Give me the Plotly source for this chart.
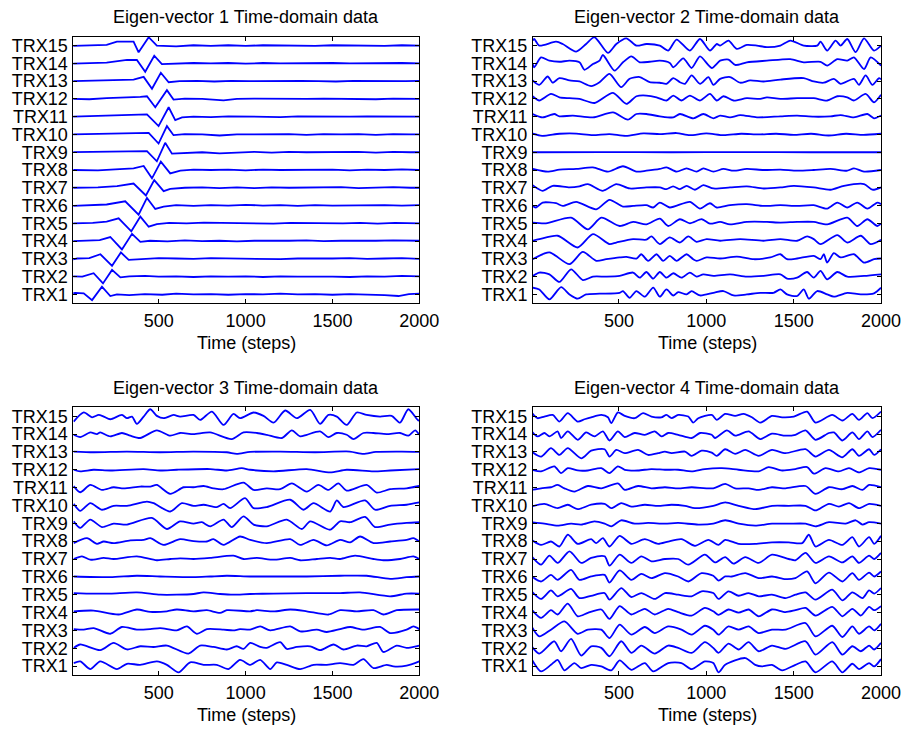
import plotly.graph_objects as go

# ---------------- data (time in steps, amplitude in hundredths of channel spacing) -------------
CHANNELS = ["TRX1", "TRX2", "TRX3", "TRX4", "TRX5", "TRX6", "TRX7", "TRX8",
            "TRX9", "TRX10", "TRX11", "TRX12", "TRX13", "TRX14", "TRX15"]
X_TICKS = [500, 1000, 1500, 2000]
TITLES = ["Eigen-vector 1 Time-domain data", "Eigen-vector 2 Time-domain data",
          "Eigen-vector 3 Time-domain data", "Eigen-vector 4 Time-domain data"]
X_LABEL = "Time (steps)"

EV1 = [
    [(0,6),(20,9),(68,6),(116,-32),(173,43),(221,-9),(259,0),(330,-4),(420,2),(520,-2),(600,4),(700,0),(800,2),(900,-2),(1000,2),(1100,0),(1200,4),(1300,0),(1400,2),(1500,-2),(1600,2),(1700,0),(1800,-4),(1880,-9),(1940,2),(2000,4)],
    [(0,2),(60,0),(125,19),(179,-38),(231,38),(279,-4),(330,2),(420,4),(500,0),(600,2),(700,-2),(800,2),(900,0),(1000,2),(1100,-2),(1200,2),(1300,0),(1400,2),(1500,0),(1600,-2),(1700,2),(1800,0),(1900,4),(2000,2)],
    [(0,-4),(30,2),(100,4),(164,26),(231,-39),(282,36),(327,-6),(400,0),(500,4),(600,2),(700,0),(800,4),(900,2),(1000,0),(1100,2),(1200,-2),(1300,2),(1400,0),(1500,2),(1600,4),(1700,0),(1800,2),(1900,4),(2000,0)],
    [(0,0),(100,2),(160,6),(221,23),(288,-47),(346,41),(394,-4),(450,2),(550,-2),(650,4),(750,0),(850,2),(950,-2),(1050,2),(1150,0),(1250,2),(1350,4),(1450,0),(1550,2),(1650,0),(1750,2),(1850,4),(1950,2),(2000,2)],
    [(0,0),(120,2),(200,9),(269,28),(342,-45),(394,38),(442,-19),(489,-4),(560,2),(660,0),(760,4),(860,2),(960,0),(1060,2),(1160,-2),(1260,2),(1360,0),(1460,2),(1560,0),(1660,2),(1760,-2),(1860,2),(1960,0),(2000,0)],
    [(0,-2),(100,0),(200,6),(307,24),(384,-51),(432,43),(480,-19),(528,-6),(600,2),(700,-2),(800,2),(900,0),(1000,4),(1100,0),(1200,2),(1300,-2),(1400,2),(1500,0),(1600,2),(1700,0),(1800,2),(1900,0),(2000,2)],
    [(0,0),(150,2),(260,9),(355,24),(426,-43),(474,43),(528,-19),(566,-6),(650,0),(750,2),(850,-2),(950,2),(1050,-2),(1150,2),(1250,0),(1350,2),(1450,0),(1550,4),(1650,-2),(1750,2),(1850,4),(1950,0),(2000,0)],
    [(0,0),(150,-2),(250,4),(355,9),(413,23),(461,-47),(512,47),(566,-19),(624,-4),(700,2),(800,0),(900,2),(1000,-2),(1100,2),(1200,0),(1300,2),(1400,0),(1500,2),(1600,-2),(1700,2),(1800,0),(1900,4),(2000,0)],
    [(0,0),(150,2),(300,4),(432,6),(489,-51),(537,53),(576,-8),(650,-4),(750,0),(850,-6),(950,0),(1050,2),(1150,-2),(1250,2),(1350,0),(1450,2),(1550,0),(1650,2),(1750,-2),(1850,2),(1950,0),(2000,0)],
    [(0,0),(150,2),(300,4),(442,9),(499,-51),(547,47),(585,-4),(650,2),(750,0),(850,-6),(950,0),(1050,2),(1150,0),(1250,2),(1350,-2),(1450,2),(1550,0),(1650,2),(1750,-2),(1850,2),(1950,0),(2000,0)],
    [(0,0),(150,4),(300,6),(432,13),(499,-53),(557,53),(595,-19),(634,-4),(700,0),(800,-2),(900,2),(1000,0),(1100,2),(1200,-2),(1300,2),(1400,0),(1500,2),(1600,0),(1700,2),(1800,0),(1900,2),(2000,0)],
    [(0,0),(100,-2),(200,4),(300,6),(394,11),(432,15),(480,-47),(547,49),(585,-4),(650,2),(750,0),(873,-8),(950,0),(1050,2),(1150,0),(1250,2),(1350,0),(1450,2),(1550,0),(1650,2),(1750,-2),(1850,2),(1950,0),(2000,0)],
    [(0,0),(100,2),(200,4),(300,4),(355,9),(413,24),(461,-43),(512,47),(557,-6),(620,0),(720,2),(820,-2),(920,2),(1020,0),(1120,2),(1220,0),(1320,2),(1420,0),(1520,-2),(1620,2),(1720,0),(1820,2),(1920,0),(2000,2)],
    [(0,-2),(100,0),(200,4),(317,19),(374,19),(422,-47),(474,43),(518,-4),(600,0),(700,2),(800,0),(900,2),(1000,-2),(1100,2),(1200,0),(1300,2),(1400,0),(1500,2),(1600,0),(1700,2),(1800,0),(1900,2),(2000,0)],
    [(0,-2),(100,0),(200,4),(259,22),(355,22),(384,-38),(442,47),(489,0),(600,-4),(700,2),(800,-2),(900,2),(1000,-2),(1100,2),(1200,0),(1300,2),(1400,-2),(1500,2),(1600,0),(1700,2),(1800,-2),(1900,2),(2000,0)],
]

EV2 = [
    [(6,38),(44,28),(102,-28),(169,41),(217,0),(264,-24),(312,0),(389,4),(504,9),(523,19),(561,-19),(600,19),(648,-13),(696,38),(734,-13),(772,28),(811,-6),(839,13),(887,0),(916,19),(964,-6),(1041,9),(1098,19),(1156,-6),(1232,0),(1309,9),(1385,9),(1424,28),(1462,0),(1520,-9),(1558,28),(1587,-24),(1635,19),(1692,0),(1730,-13),(1807,9),(1884,0),(1960,6),(2000,38)],
    [(6,4),(44,23),(102,13),(159,-30),(226,41),(293,-19),(351,0),(427,0),(504,4),(581,23),(619,-6),(657,26),(696,-11),(734,26),(772,-6),(811,19),(858,-6),(906,23),(944,0),(983,13),(1041,4),(1136,13),(1232,0),(1328,4),(1424,13),(1462,-11),(1520,-6),(1577,26),(1615,-6),(1654,32),(1692,-15),(1750,26),(1807,0),(1903,4),(2000,13)],
    [(6,-2),(102,36),(217,-30),(293,39),(370,-11),(427,-2),(504,8),(542,11),(600,2),(628,26),(667,-11),(715,26),(753,-11),(791,17),(830,-11),(887,26),(925,-2),(945,-11),(1002,8),(1079,2),(1175,13),(1271,-2),(1366,8),(1424,26),(1462,-2),(1520,2),(1615,17),(1654,-2),(1673,26),(1692,-21),(1730,32),(1769,8),(1845,26),(1903,-21),(1960,-2),(2000,2)],
    [(6,2),(44,11),(150,30),(264,-36),(351,39),(446,-17),(485,-8),(581,11),(657,8),(686,26),(734,-17),(791,21),(849,-8),(897,26),(944,-4),(1002,11),(1079,2),(1194,11),(1328,2),(1424,11),(1520,2),(1577,26),(1615,11),(1654,-17),(1750,34),(1807,-8),(1884,30),(1941,-17),(2000,8)],
    [(6,4),(82,0),(226,32),(322,-34),(399,32),(504,-15),(581,8),(657,-6),(734,26),(782,-15),(849,23),(906,0),(974,23),(1021,-2),(1079,8),(1136,-6),(1232,8),(1347,8),(1424,4),(1520,8),(1615,8),(1692,-6),(1807,32),(1864,-15),(1922,23),(1979,-15),(2000,-2)],
    [(6,-2),(25,-11),(63,17),(140,13),(178,-2),(255,21),(370,-21),(446,32),(523,-6),(581,-2),(657,2),(696,-11),(734,17),(791,-11),(906,21),(964,-17),(1021,13),(1060,-11),(1136,2),(1232,8),(1328,-2),(1424,2),(1520,-2),(1615,2),(1692,-17),(1750,17),(1807,-11),(1864,17),(1922,-17),(1979,17),(2000,8)],
    [(6,15),(63,-17),(121,11),(217,2),(274,8),(322,21),(408,-17),(485,21),(561,-4),(657,2),(734,2),(772,-8),(810,8),(849,-8),(887,11),(935,-11),(983,15),(1041,-4),(1136,2),(1232,8),(1328,-4),(1424,2),(1500,11),(1615,2),(1711,-11),(1788,11),(1903,21),(1951,-11),(2000,2)],
    [(6,6),(92,-9),(159,2),(255,6),(351,15),(437,-9),(523,21),(600,-9),(657,-4),(734,6),(772,15),(830,-9),(887,9),(945,-9),(983,9),(1041,-9),(1098,6),(1156,-4),(1232,6),(1328,0),(1424,2),(1520,-4),(1615,0),(1711,6),(1807,-4),(1845,9),(1903,-9),(2000,0)],
    [(0,0),(400,1),(800,0),(1200,1),(1600,0),(2000,0)],
    [(0,6),(60,-8),(160,4),(255,5),(350,-4),(445,2),(540,-8),(640,6),(735,2),(830,8),(905,-4),(1000,6),(1100,-4),(1200,4),(1300,0),(1400,4),(1500,-2),(1600,4),(1700,-6),(1800,4),(1900,-2),(2000,4)],
    [(6,15),(63,-4),(130,15),(159,2),(236,6),(351,-4),(466,24),(551,-17),(600,15),(657,15),(734,2),(811,-4),(849,15),(926,-9),(983,15),(1041,-9),(1079,6),(1136,-4),(1194,9),(1290,-4),(1424,2),(1520,6),(1615,0),(1711,2),(1769,9),(1845,-4),(1922,15),(1960,-9),(2000,6)],
    [(6,15),(44,-9),(111,28),(159,9),(217,4),(274,0),(360,-23),(466,34),(542,-28),(600,15),(657,19),(715,9),(772,-9),(811,19),(858,-9),(906,19),(964,-9),(1021,28),(1060,-9),(1098,15),(1156,-9),(1232,4),(1309,0),(1347,9),(1424,0),(1520,4),(1615,4),(1692,-9),(1750,15),(1807,9),(1845,-9),(1912,28),(1960,-19),(2000,23)],
    [(6,4),(44,-21),(92,26),(121,-9),(159,17),(217,4),(274,-2),(341,-28),(389,-6),(446,41),(513,-34),(561,13),(619,23),(676,-6),(734,-9),(772,-15),(811,17),(849,-6),(878,-15),(916,32),(964,-15),(1012,23),(1041,-21),(1079,13),(1136,23),(1194,-9),(1251,4),(1328,-2),(1424,9),(1558,17),(1615,-2),(1673,-9),(1730,13),(1769,-15),(1845,13),(1874,-21),(1912,32),(1951,-21),(1989,17),(2000,10)],
    [(6,-4),(15,-22),(54,34),(102,15),(159,9),(217,15),(274,6),(303,-36),(351,-4),(389,15),(408,47),(475,-41),(523,6),(571,39),(619,6),(676,9),(734,15),(791,2),(811,-22),(868,28),(916,-26),(964,39),(1031,-26),(1079,15),(1127,21),(1165,-9),(1232,6),(1347,15),(1481,24),(1558,6),(1654,9),(1692,-13),(1750,24),(1807,15),(1845,34),(1903,-32),(1941,34),(2000,-13)],
    [(6,28),(15,37),(44,0),(140,22),(178,9),(255,-34),(312,9),(360,47),(437,-41),(485,9),(542,41),(600,0),(657,9),(734,0),(782,-28),(830,34),(906,-28),(964,37),(1021,-28),(1060,9),(1079,0),(1127,28),(1175,-19),(1232,4),(1290,0),(1347,-9),(1424,0),(1481,28),(1558,0),(1635,0),(1654,22),(1692,-28),(1740,28),(1769,0),(1807,37),(1855,-37),(1903,41),(1960,-28),(2000,0)],
]

EV3 = [
    [(10,17),(48,26),(106,-17),(163,26),(259,-17),(317,13),(393,7),(489,26),(547,7),(614,-35),(681,21),(758,7),(834,7),(901,-17),(968,35),(1027,7),(1084,35),(1142,-17),(1180,21),(1237,7),(1314,-17),(1391,7),(1467,7),(1544,17),(1621,7),(1678,39),(1736,-11),(1812,7),(1851,-2),(1927,2),(2000,26)],
    [(10,2),(48,21),(163,-11),(240,30),(317,-7),(393,11),(470,7),(547,15),(671,-30),(738,15),(815,7),(892,-7),(949,11),(988,-4),(1027,30),(1084,7),(1122,2),(1199,34),(1237,-4),(1295,7),(1372,11),(1429,-11),(1506,21),(1563,-7),(1640,15),(1697,11),(1755,30),(1793,-21),(1870,15),(1927,2),(2000,15)],
    [(10,7),(68,4),(125,13),(221,-19),(288,19),(374,4),(451,7),(508,13),(604,0),(662,22),(719,-19),(777,7),(873,4),(930,0),(968,7),(1026,4),(1084,22),(1142,0),(1257,22),(1314,-6),(1410,4),(1467,-9),(1544,7),(1602,19),(1678,4),(1774,19),(1832,-15),(1927,4),(1966,22),(2000,7)],
    [(10,7),(125,11),(269,-11),(374,17),(451,4),(547,7),(604,17),(700,7),(777,13),(853,-2),(892,13),(1026,7),(1065,13),(1161,6),(1257,17),(1352,7),(1477,-11),(1544,13),(1640,7),(1736,13),(1793,-11),(1870,13),(2000,17)],
    [(10,9),(125,6),(221,6),(374,13),(508,0),(604,0),(700,4),(758,13),(853,4),(930,0),(1026,4),(1161,6),(1352,9),(1544,9),(1659,13),(1832,-9),(1927,6),(2000,6)],
    [(10,2),(221,-2),(374,6),(508,2),(700,-2),(796,2),(892,6),(1026,2),(1161,2),(1352,2),(1544,6),(1697,6),(1832,-11),(1927,-2),(2000,2)],
    [(10,0),(58,15),(106,-4),(183,6),(240,0),(374,15),(489,-7),(566,0),(623,4),(700,0),(796,6),(930,19),(988,0),(1065,6),(1161,-4),(1257,6),(1314,-7),(1410,0),(1487,6),(1544,0),(1630,19),(1736,0),(1793,-7),(1889,0),(1966,15),(2000,0)],
    [(10,-11),(87,17),(144,-15),(183,-2),(240,-11),(336,4),(413,7),(451,17),(528,-21),(623,11),(700,0),(777,-2),(815,11),(873,-21),(968,26),(1027,7),(1122,-11),(1257,11),(1314,-21),(1391,7),(1467,-24),(1544,7),(1602,-7),(1659,26),(1736,-11),(1832,-2),(1927,7),(1966,17),(2000,-2)],
    [(10,11),(48,-26),(106,21),(173,-21),(240,-2),(317,-7),(460,30),(547,-32),(623,11),(700,-2),(748,6),(796,-17),(873,21),(920,-21),(988,39),(1046,-7),(1122,-17),(1237,21),(1324,-32),(1372,11),(1487,-36),(1544,11),(1602,6),(1688,36),(1745,-21),(1832,-7),(1927,2),(2000,6)],
    [(10,9),(48,-30),(106,13),(173,-24),(240,-2),(317,-2),(432,22),(470,13),(566,-34),(633,13),(700,-2),(758,4),(834,-9),(873,9),(911,-15),(997,41),(1046,-15),(1122,-9),(1257,32),(1333,-24),(1391,13),(1487,-34),(1525,28),(1563,-9),(1688,28),(1745,-24),(1832,-2),(1927,4),(2000,17)],
    [(10,9),(48,-26),(106,15),(173,-13),(240,2),(298,-4),(393,6),(451,6),(489,15),(566,-35),(643,2),(700,2),(758,9),(815,-4),(873,-9),(988,28),(1046,-13),(1122,-4),(1199,-9),(1266,24),(1352,-22),(1419,15),(1477,-13),(1534,24),(1582,-17),(1697,15),(1755,-28),(1832,-9),(1927,-4),(2000,9)],
    [(10,0),(48,-9),(125,0),(221,-4),(413,4),(508,-4),(604,0),(796,4),(892,-4),(978,9),(1026,0),(1161,-9),(1352,4),(1487,-15),(1582,0),(1736,-9),(1832,-4),(2000,4)],
    [(10,2),(125,-2),(317,2),(508,-2),(700,2),(892,-2),(949,-11),(1026,0),(1200,2),(1400,-2),(1600,2),(1678,-11),(1750,0),(1900,2),(2000,0)],
    [(10,-4),(48,-17),(106,9),(144,0),(163,9),(221,-13),(288,6),(336,-9),(393,-22),(489,21),(566,-9),(623,6),(700,0),(796,9),(920,-28),(988,9),(1065,6),(1122,-4),(1209,-22),(1266,21),(1314,-13),(1352,-4),(1429,15),(1477,-17),(1525,6),(1582,-4),(1621,-28),(1678,6),(1736,6),(1812,0),(1889,6),(1937,-9),(1976,21),(2000,-4)],
    [(10,-30),(68,21),(116,-6),(154,7),(183,-2),(221,-17),(288,7),(317,-11),(346,-2),(374,-43),(413,-2),(451,39),(489,2),(528,-11),(585,7),(623,-2),(700,7),(738,-21),(806,26),(873,-49),(930,13),(968,-11),(1046,21),(1103,2),(1161,-36),(1228,32),(1295,-11),(1372,36),(1429,-43),(1477,7),(1525,-2),(1582,-49),(1640,21),(1697,7),(1774,-2),(1841,2),(1889,-36),(1937,39),(1995,-24),(2000,-20)],
]

EV4 = [
    [(0,39),(54,-30),(111,7),(149,35),(188,-24),(245,17),(284,-11),(341,7),(399,-2),(456,-24),(504,32),(571,-21),(648,17),(696,-30),(782,17),(858,17),(916,-17),(992,26),(1040,17),(1070,-35),(1108,7),(1223,45),(1280,7),(1319,-2),(1376,7),(1434,-24),(1510,7),(1568,26),(1625,-35),(1721,26),(1779,-35),(1836,13),(1874,-17),(1932,17),(1961,-2),(2000,39)],
    [(0,11),(44,-30),(130,39),(169,-17),(226,52),(284,-41),(341,11),(399,2),(446,-45),(513,39),(571,-26),(628,15),(705,-30),(782,15),(839,2),(916,-26),(992,34),(1040,2),(1070,-26),(1127,26),(1185,-7),(1242,34),(1300,-17),(1376,15),(1453,-4),(1568,39),(1625,-36),(1721,34),(1779,-36),(1836,11),(1884,-17),(1932,15),(1961,-7),(2000,30)],
    [(0,22),(44,-34),(111,4),(188,50),(264,-19),(322,4),(399,4),(446,-43),(504,32),(571,-24),(648,19),(705,-15),(782,22),(858,4),(916,-24),(992,26),(1040,4),(1070,-24),(1127,22),(1185,4),(1242,22),(1300,-15),(1376,4),(1453,4),(1568,41),(1625,-34),(1721,26),(1779,-37),(1836,22),(1874,-19),(1932,22),(1961,0),(2000,37)],
    [(0,17),(54,-30),(111,13),(149,-11),(207,50),(264,-21),(322,-2),(399,17),(446,-36),(504,36),(571,-11),(648,21),(705,-11),(782,21),(839,2),(916,-17),(992,26),(1040,7),(1070,-13),(1127,17),(1185,0),(1242,17),(1300,-21),(1376,17),(1453,2),(1510,13),(1568,26),(1625,-17),(1721,32),(1779,-21),(1836,21),(1884,-17),(1932,32),(1961,13),(2000,36)],
    [(0,19),(54,-24),(111,24),(149,-9),(226,32),(274,-19),(341,-6),(418,9),(446,-28),(513,37),(571,-13),(628,9),(705,-24),(763,9),(839,0),(916,-9),(973,19),(1040,9),(1070,-24),(1127,19),(1185,-6),(1242,9),(1300,-9),(1376,0),(1453,-19),(1510,0),(1568,13),(1625,-28),(1721,28),(1779,-32),(1836,13),(1894,-19),(1932,24),(1961,6),(2000,37)],
    [(0,2),(54,-26),(111,11),(149,-17),(226,39),(274,-17),(341,2),(418,11),(446,-32),(504,36),(571,-17),(628,17),(686,-7),(763,21),(839,2),(897,-26),(973,21),(1040,6),(1070,-21),(1108,2),(1146,2),(1223,21),(1300,-7),(1376,2),(1453,-13),(1510,-7),(1577,30),(1625,-36),(1702,24),(1779,-26),(1836,21),(1874,-17),(1932,24),(1961,2),(2000,30)],
    [(0,15),(54,-32),(102,19),(149,-22),(217,43),(284,-22),(341,6),(418,15),(446,-37),(504,24),(571,-22),(628,15),(686,-13),(763,0),(839,0),(897,-32),(992,24),(1050,-19),(1108,11),(1156,-26),(1223,11),(1300,-22),(1376,24),(1472,0),(1510,-7),(1568,34),(1625,-22),(1702,15),(1779,-19),(1836,15),(1874,-22),(1932,19),(1961,0),(2000,34)],
    [(0,7),(54,-21),(111,-2),(159,-30),(207,36),(264,-15),(341,11),(370,-11),(408,17),(446,-30),(504,30),(571,-15),(648,11),(724,-15),(782,-2),(858,11),(935,-26),(1012,7),(1070,-21),(1108,7),(1185,-15),(1280,-15),(1376,-7),(1472,-7),(1549,-11),(1587,36),(1625,-30),(1702,7),(1779,-21),(1836,22),(1874,-30),(1932,22),(1961,-15),(2000,30)],
    [(0,6),(73,-2),(149,-13),(226,-2),(284,-7),(360,11),(418,-2),(456,-17),(513,17),(590,-2),(667,2),(763,-2),(839,2),(954,-7),(1040,-2),(1108,17),(1185,-2),(1280,-13),(1376,-2),(1472,-2),(1568,-2),(1625,-17),(1702,6),(1798,-2),(1855,17),(1894,-7),(1932,6),(2000,-2)],
    [(0,-6),(73,9),(149,-15),(207,4),(264,-21),(341,4),(418,9),(456,-15),(513,13),(571,-6),(648,4),(724,-2),(801,4),(878,-2),(935,-15),(1040,-2),(1108,17),(1185,-2),(1280,-21),(1376,-2),(1472,-2),(1568,-2),(1625,-28),(1702,9),(1759,-6),(1817,13),(1874,-15),(1932,9),(2000,-2)],
    [(0,-13),(54,-4),(111,2),(149,15),(188,-4),(245,-22),(322,9),(399,-4),(494,24),(533,-13),(609,9),(686,-4),(763,2),(839,-4),(916,2),(1040,-4),(1108,21),(1165,-4),(1242,-4),(1300,-13),(1376,2),(1453,-4),(1568,9),(1625,-35),(1702,2),(1779,-9),(1836,9),(1894,-13),(1932,15),(2000,2)],
    [(0,0),(54,-9),(130,19),(169,-19),(207,9),(264,-4),(322,-4),(399,9),(446,-19),(494,19),(533,0),(609,-4),(686,4),(763,0),(839,0),(916,-9),(992,4),(1089,9),(1185,0),(1300,-9),(1357,15),(1434,-4),(1510,4),(1577,15),(1616,-22),(1683,9),(1759,-9),(1817,9),(1874,-15),(1932,9),(2000,0)],
    [(0,2),(54,-26),(111,21),(159,-17),(207,21),(284,-36),(341,7),(418,15),(446,-26),(485,11),(533,-7),(609,11),(667,-17),(724,-7),(763,2),(801,-7),(878,2),(916,-22),(973,7),(1031,-4),(1060,-22),(1108,15),(1165,-11),(1223,11),(1300,-22),(1376,11),(1453,-7),(1568,15),(1625,-26),(1702,11),(1779,-30),(1836,15),(1874,-22),(1932,15),(1961,-17),(2000,15)],
    [(0,15),(34,-13),(73,6),(102,-13),(149,15),(169,-22),(207,15),(264,-32),(312,9),(360,-13),(408,15),(446,-36),(494,15),(533,-17),(590,6),(648,-4),(705,15),(743,-13),(782,6),(839,-4),(916,-22),(964,6),(1031,-4),(1050,-22),(1118,21),(1165,-9),(1242,15),(1309,-28),(1376,2),(1453,-9),(1510,-4),(1568,21),(1625,-32),(1702,6),(1731,9),(1779,-36),(1836,9),(1874,-28),(1922,15),(1951,-17),(2000,24)],
    [(0,21),(34,-11),(73,-2),(121,7),(159,-30),(207,17),(264,-30),(303,-17),(341,-6),(399,7),(437,-6),(456,-39),(494,21),(533,2),(590,-11),(638,17),(686,-2),(743,-6),(772,7),(801,-11),(839,7),(897,-2),(925,-36),(954,-11),(1031,7),(1060,-20),(1108,13),(1165,2),(1213,13),(1261,-6),(1309,-36),(1376,2),(1434,-6),(1501,-2),(1577,26),(1625,-36),(1721,7),(1779,-24),(1836,13),(1874,-21),(1922,17),(1951,-11),(2000,26)],
]

PANELS = [EV1, EV2, EV3, EV4]
SHAPES = ["linear", "spline", "spline", "spline"]

# ---------------- figure -------------
W, H = 906, 731
FONT = "Liberation Sans, Arial, Helvetica, sans-serif"
BLUE = "#0000ff"

# plot-area boxes in pixels (left, right, top, bottom)
BOXES = [(73.3, 419.3, 36.7, 303.3), (533.0, 881.0, 36.7, 303.3),
         (73.3, 419.3, 407.3, 675.0), (533.0, 881.0, 407.3, 675.0)]

fig = go.Figure()
layout = dict(width=W, height=H, autosize=False, margin=dict(l=0, r=0, t=0, b=0, pad=0),
              paper_bgcolor="white", plot_bgcolor="white", showlegend=False,
              font=dict(family=FONT, size=18, color="black"))
annotations = []

for p, (traces, box) in enumerate(zip(PANELS, BOXES)):
    n = p + 1
    xa = "x" if n == 1 else f"x{n}"
    ya = "y" if n == 1 else f"y{n}"
    for k, tr in enumerate(traces):
        off = k + 1
        line = dict(color=BLUE, width=1.8, shape=SHAPES[p])
        if SHAPES[p] == "spline":
            line["smoothing"] = 0.7
        fig.add_trace(go.Scatter(
            x=[t for t, v in tr], y=[off + v / 100.0 for t, v in tr],
            mode="lines", line=line,
            xaxis=xa, yaxis=ya, hoverinfo="skip"))
    l, r, t, b = box
    xd = [l / W, r / W]
    yd = [1 - b / H, 1 - t / H]
    common = dict(showline=True, linecolor="black", linewidth=1, mirror="allticks",
                  ticks="inside", ticklen=4, tickwidth=1, tickcolor="black",
                  showgrid=False, zeroline=False, automargin=False,
                  tickfont=dict(family=FONT, size=18, color="black"))
    layout["xaxis" if n == 1 else f"xaxis{n}"] = dict(
        domain=xd, range=[8, 2000], tickvals=X_TICKS,
        anchor=ya, ticklabelstandoff=1, **common)
    layout["yaxis" if n == 1 else f"yaxis{n}"] = dict(
        domain=yd, range=[0.5, 15.5], tickvals=list(range(1, 16)),
        ticktext=CHANNELS, anchor=xa, ticklabelstandoff=1, **common)
    cx = (l + r) / 2 / W
    annotations.append(dict(text=TITLES[p], x=cx, y=1 - (t - 19.5) / H,
                            xref="paper", yref="paper", xanchor="center",
                            yanchor="middle", showarrow=False,
                            font=dict(family=FONT, size=18, color="black")))
    annotations.append(dict(text=X_LABEL, x=cx, y=1 - (b + 40) / H,
                            xref="paper", yref="paper", xanchor="center",
                            yanchor="middle", showarrow=False,
                            font=dict(family=FONT, size=18, color="black")))

layout["annotations"] = annotations
fig.update_layout(**layout)
fig.write_html("out.html")
